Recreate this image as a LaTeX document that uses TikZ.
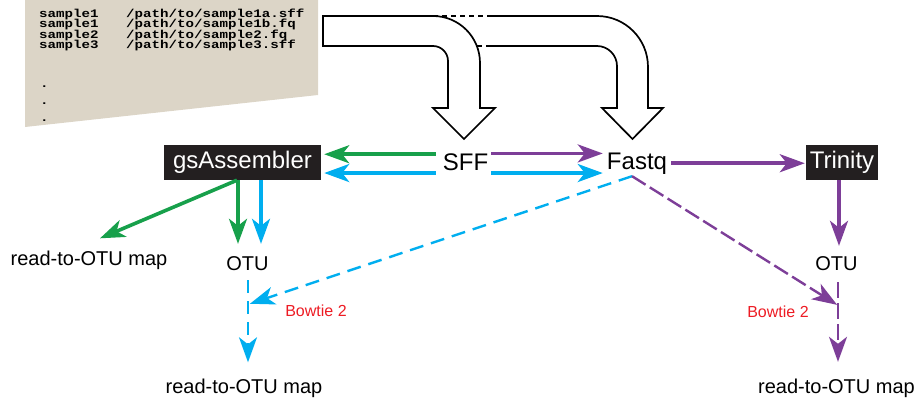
\documentclass[tikz,border=0pt]{standalone}
\usepackage{fontspec}
\setmainfont{Liberation Sans}
\newfontfamily\codefont[FakeStretch=1.23]{Liberation Mono}
\usetikzlibrary{arrows.meta,calc}
\definecolor{cgreen}{HTML}{17A04B}
\definecolor{cblue}{HTML}{00AEEF}
\definecolor{cpurple}{HTML}{7D3E98}
\definecolor{cred}{HTML}{ED1C24}
\definecolor{cbeige}{HTML}{DCD5C7}
\definecolor{cbox}{HTML}{231F20}
\begin{document}
\begin{tikzpicture}[x=1pt,y=-1pt,
 big/.style={font=\fontsize{24}{28}\selectfont, inner sep=0pt},
 mid/.style={font=\fontsize{20}{24}\selectfont, inner sep=0pt},
 small/.style={font=\fontsize{16}{19}\selectfont, text=cred, inner sep=0pt},
 blackbox/.style={fill=cbox, text=white, font=\fontsize{24}{28}\selectfont, inner sep=0pt, minimum height=35pt, text height=17.5pt, text depth=5pt},
 code/.style={font=\codefont\bfseries\fontsize{11.5}{11.5}\selectfont, inner sep=0pt, anchor=base west},
 tip/.style={-{Stealth[length=25pt,width=18pt,inset=7pt]}},
 solidarr/.style={tip, line width=3.6pt},
 bluedash/.style={tip, line width=2.4pt, dash pattern=on 13pt off 8pt},
 purpdash/.style={tip, line width=2.4pt, dash pattern=on 16pt off 5pt},
 bigarrow/.style={draw=black, line width=1.7pt, fill=white, line join=miter},
 bigline/.style={draw=black, line width=1.7pt, line join=miter}
]
\useasboundingbox (0,0) rectangle (922,402);

% beige sample sheet
\fill[cbeige] (25,0) -- (318,0) -- (318,95) -- (25,127) -- cycle;
\node[code] (c1) at (39,17) {\makebox[87pt][l]{sample1}/path/to/sample1a.sff};
\node[code] (c2) at (39,27.6) {\makebox[87pt][l]{sample1}/path/to/sample1b.fq};
\node[code] (c3) at (39,38.2) {\makebox[87pt][l]{sample2}/path/to/sample2.fq};
\node[code] (c4) at (39,48.8) {\makebox[87pt][l]{sample3}/path/to/sample3.sff};
\node[code] (d1) at (40,87.5) {.};
\node[code] (d2) at (40,104.5) {.};
\node[code] (d3) at (40,121.5) {.};

% big hollow arrows
\draw[bigarrow] (323,16) -- (433,16) .. controls (459,16) and (480,37) .. (480,63)
  -- (480,108) -- (495,108) -- (464,139) -- (433,108) -- (448,108) -- (448,61)
  .. controls (448,52.7) and (441.3,46) .. (433,46) -- (323,46) -- cycle;
\draw[bigline] (492,16) -- (597,16) .. controls (625.2,16) and (648,38.8) .. (648,67)
  -- (648,108) -- (663,108) -- (632.5,139) -- (602,108) -- (617,108) -- (617,66)
  .. controls (617,55) and (608,46) .. (597,46) -- (490,46);
\draw[bigline, dash pattern=on 5pt off 4pt] (433,16) -- (492,16);
\draw[bigline, dash pattern=on 5pt off 4pt] (477,46) -- (490,46);

% nodes
\node[blackbox, minimum width=157pt] (gs) at (242.5,162.5) {gsAssembler};
\node[blackbox, minimum width=72pt] (tri) at (842,162.5) {Trinity};
\node[big, anchor=base] (sff) at (465.5,170) {SFF};
\node[big, anchor=base] (fq) at (637,169) {Fastq};
\node[mid, anchor=base] (otuL) at (247.5,270) {OTU};
\node[mid, anchor=base] (otuR) at (836.5,270) {OTU};
\node[mid, anchor=base] (mapL) at (89,265) {read-to-OTU map};
\node[mid, anchor=base] (mapB) at (244,393) {read-to-OTU map};
\node[mid, anchor=base] (mapR) at (836.5,393) {read-to-OTU map};
\node[small, anchor=base] (bwL) at (316,316) {Bowtie 2};
\node[small, anchor=base] (bwR) at (778,317) {Bowtie 2};

% SFF <-> gsAssembler / Fastq
\draw[solidarr, cgreen, shorten >=3pt] ([xshift=-7pt,yshift=7.5pt]sff.west) coordinate (g1) -- (g1 -| gs.east);
\draw[solidarr, cblue, shorten >=3pt] ([xshift=-7pt,yshift=-11.3pt]sff.west) coordinate (b1) -- (b1 -| gs.east);
\draw[solidarr, cpurple, shorten >=4pt] ([xshift=3pt,yshift=8.3pt]sff.east) coordinate (p1) -- (p1 -| fq.west);
\draw[solidarr, cblue, shorten >=4pt] ([xshift=3pt,yshift=-11.3pt]sff.east) coordinate (b2) -- (b2 -| fq.west);
\draw[solidarr, cpurple, shorten >=1pt] ([xshift=4pt]fq.east) coordinate (f1) -- (f1 -| tri.west);

% Trinity branch
\draw[solidarr, cpurple, shorten >=10pt] ([xshift=-3pt]tri.south) coordinate (t1) -- (t1 |- otuR.north);
\coordinate (or) at ([xshift=1.5pt]otuR.south);
\draw[purpdash, cpurple, shorten <=12pt, shorten >=16.5pt] (or) -- (or |- mapR.north);
\coordinate (mR) at ($(or)+(0,35)$);

% gsAssembler branch
\draw[solidarr, cgreen] ([xshift=-5.5pt]gs.south) -- ([xshift=11pt,yshift=12pt]mapL.north);
\draw[solidarr, cgreen, shorten >=12pt] ([xshift=-4.5pt]gs.south) coordinate (gv) -- (gv |- otuL.north);
\draw[solidarr, cblue, shorten >=12pt] ([xshift=18.5pt]gs.south) coordinate (bv) -- (bv |- otuL.north);
\coordinate (ol) at ([xshift=0.5pt]otuL.south);
\draw[bluedash, cblue, shorten <=10pt, shorten >=16pt] (ol) -- (ol |- mapB.north);
\coordinate (mL) at ($(ol)+(0,34)$);

% Bowtie 2 mappings from Fastq
\coordinate (fqs) at ([xshift=-5pt,yshift=-2pt]fq.south);
\draw[bluedash, cblue, dash pattern=on 14pt off 8pt, shorten >=2pt] (fqs) -- (mL);
\draw[purpdash, cpurple, shorten >=1pt] (fqs) -- (mR);
\end{tikzpicture}
\end{document}
